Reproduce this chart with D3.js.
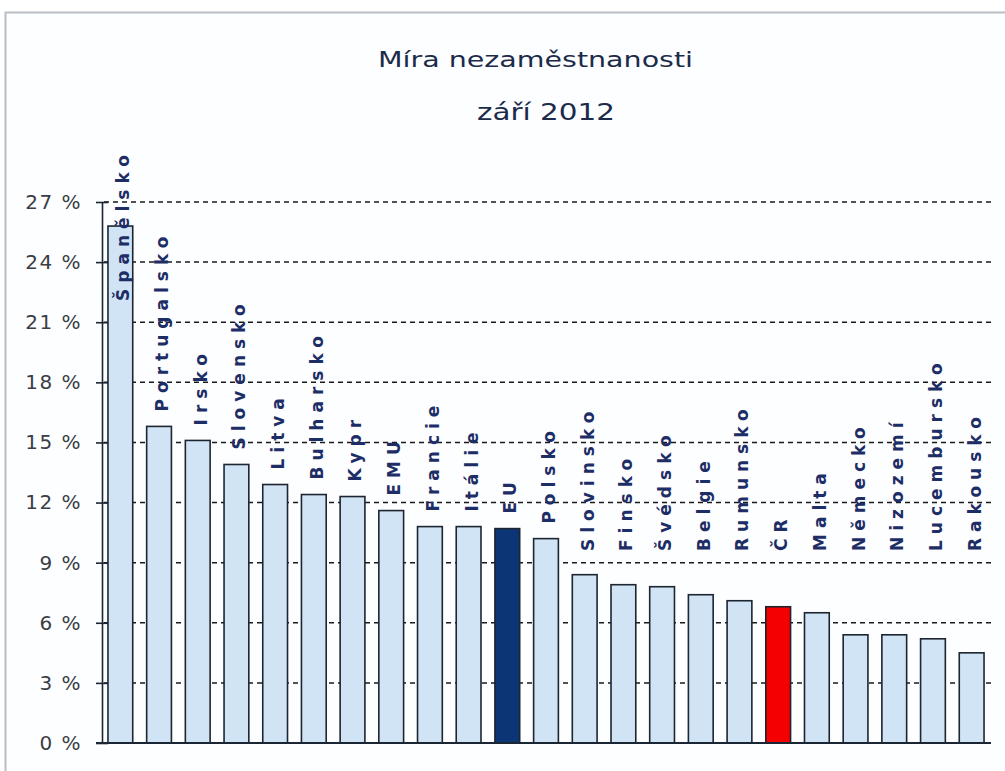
<!DOCTYPE html>
<html>
  <head>
    <meta charset="utf-8">
    <style>
body {
  margin: 0;
  background: #fff;
}
text {
  font-family: 'DejaVu Sans', Verdana, sans-serif;
}
</style>
  </head>
  <body>
    <svg width="1005" height="771"></svg>
    <script src="https://d3js.org/d3.v7.min.js"></script>
    <script>
// data
var countries = ["Španělsko", "Portugalsko", "Irsko", "Slovensko", "Litva", "Bulharsko", "Kypr", "EMU",
  "Francie", "Itálie", "EU", "Polsko", "Slovinsko", "Finsko", "Švédsko", "Belgie", "Rumunsko", "ČR",
  "Malta", "Německo", "Nizozemí", "Lucembursko", "Rakousko"];
var rates = [25.8, 15.8, 15.1, 13.9, 12.9, 12.4, 12.3, 11.6, 10.8, 10.8, 10.7, 10.2, 8.4, 7.9, 7.8, 7.4,
  7.1, 6.8, 6.5, 5.4, 5.4, 5.2, 4.5];
var yTicks = [0, 3, 6, 9, 12, 15, 18, 21, 24, 27];
var titleLines = ["Míra nezaměstnanosti", "září 2012"];

var svg = d3.select("svg");

// frame
svg.append("rect")
    .attr("x", 5.5).attr("y", 12.5)
    .attr("width", 1010).attr("height", 780)
    .attr("fill", "#fdfeff")
    .attr("stroke", "#b9bdc4")
    .attr("stroke-width", 2);

var x = d3.scaleBand()
    .domain(countries)
    .range([101, 991])
    .paddingInner(0.36)
    .paddingOuter(0.18);

var y = d3.scaleLinear()
    .domain([0, 27])
    .range([743, 202]);

// title
svg.append("text")
    .attr("x", 378).attr("y", 67)
    .attr("textLength", 315)
    .attr("lengthAdjust", "spacingAndGlyphs")
    .attr("font-size", 22)
    .attr("fill", "#1c2b4a")
    .text(titleLines[0]);
svg.append("text")
    .attr("x", 477).attr("y", 120)
    .attr("textLength", 138)
    .attr("lengthAdjust", "spacingAndGlyphs")
    .attr("font-size", 23)
    .attr("fill", "#1c2b4a")
    .text(titleLines[1]);

// dashed gridlines
svg.append("g")
  .selectAll("line")
  .data(yTicks.filter(function(d) { return d > 0; }))
  .enter().append("line")
    .attr("x1", 104).attr("x2", 991)
    .attr("y1", function(d) { return y(d); })
    .attr("y2", function(d) { return y(d); })
    .attr("stroke", "#1a1a1a")
    .attr("stroke-width", 1.5)
    .attr("stroke-dasharray", "5,4");

// y axis
var yAxis = svg.append("g")
    .attr("transform", "translate(102,0)")
    .call(d3.axisLeft(y).tickValues(yTicks).tickSizeInner(6).tickSizeOuter(0).tickPadding(14)
      .tickFormat(function(d) { return d + " %"; }));
yAxis.select(".domain").attr("stroke", "#1a2633").attr("stroke-width", 1.6);
yAxis.selectAll(".tick line")
    .attr("x1", -6).attr("x2", 6)
    .attr("stroke", "#1a2633").attr("stroke-width", 1.6);
yAxis.selectAll(".tick text")
    .attr("font-family", "'DejaVu Sans', sans-serif")
    .attr("font-size", 20)
    .attr("letter-spacing", 1.5)
    .attr("fill", "#3a3d44");

// bars
svg.append("g")
  .selectAll("rect")
  .data(countries)
  .enter().append("rect")
    .attr("x", function(d) { return x(d); })
    .attr("y", function(d, i) { return y(rates[i]); })
    .attr("width", x.bandwidth())
    .attr("height", function(d, i) { return y(0) - y(rates[i]); })
    .attr("fill", function(d) { return d === "EU" ? "#0b3574" : d === "ČR" ? "#f40000" : "#d0e4f6"; })
    .attr("stroke", "#1c2530")
    .attr("stroke-width", 1.6);

// baseline
svg.append("line")
    .attr("x1", 96).attr("x2", 991)
    .attr("y1", y(0)).attr("y2", y(0))
    .attr("stroke", "#1a2633")
    .attr("stroke-width", 1.8);

// rotated labels above bars
var labels = svg.append("g")
  .selectAll("text")
  .data(countries)
  .enter().append("text")
    .attr("font-size", 17)
    .attr("font-weight", "bold")
    .attr("letter-spacing", 6)
    .attr("fill", "#1d2d66")
    .attr("dy", "0.35em")
    .text(function(d) { return d; });

labels.each(function(d, i) {
  var len = this.getComputedTextLength() - 6;
  var bottom = Math.min(y(rates[i]) - 15, 551);
  if (bottom - len < 155) bottom = 155 + len;
  d3.select(this)
    .attr("transform", "translate(" + (x(d) + x.bandwidth() / 2 + 3) + "," + bottom + ") rotate(-90)");
});
</script>
  </body>
</html>
